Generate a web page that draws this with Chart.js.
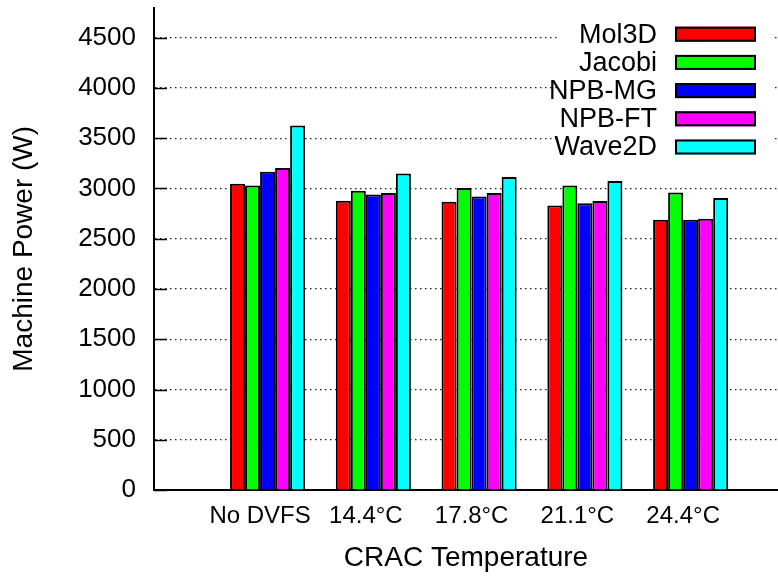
<!DOCTYPE html>
<html>
<head>
<meta charset="utf-8">
<script src="https://cdn.jsdelivr.net/npm/chart.js@4"></script>
<style>
  html, body { margin: 0; padding: 0; background: #fff; }
  #wrap { width: 778px; height: 578px; position: relative; }
</style>
</head>
<body>
<div id="wrap"><canvas id="chart"></canvas></div>
<script>
/* ── Data ─────────────────────────────────────────────── */
const categories = ['No DVFS', '14.4°C', '17.8°C', '21.1°C', '24.4°C'];
const seriesNames = ['Mol3D', 'Jacobi', 'NPB-MG', 'NPB-FT', 'Wave2D'];
const mol3d  = [3048, 2878, 2869, 2832, 2689];
const jacobi = [3030, 2978, 3005, 3031, 2961];
const npbMg  = [3167, 2941, 2921, 2852, 2689];
const npbFt  = [3204, 2955, 2955, 2875, 2699];
const wave2d = [3628, 3150, 3114, 3075, 2905];
const yTicks = [0, 500, 1000, 1500, 2000, 2500, 3000, 3500, 4000, 4500];

const colors = ['#ff0000', '#00ff00', '#0000ff', '#ff00ff', '#00ffff'];
const FONT = "'Liberation Sans', Arial, Helvetica, sans-serif";

const series = [mol3d, jacobi, npbMg, npbFt, wave2d];

// inward tick marks on the y axis (gnuplot style)
const innerTicks = {
  id: 'innerTicks',
  afterDraw(chart) {
    const { ctx, chartArea, scales: { y } } = chart;
    ctx.save();
    ctx.strokeStyle = '#000';
    ctx.lineWidth = 1.5;
    yTicks.forEach(v => {
      const py = Math.round(y.getPixelForValue(v)) + 0.5;
      ctx.beginPath();
      ctx.moveTo(chartArea.left, py);
      ctx.lineTo(chartArea.left + 13, py);
      ctx.stroke();
    });
    ctx.restore();
  }
};

// opaque key box in the upper right, text right-aligned before the swatch
const keyBox = {
  id: 'keyBox',
  afterDatasetsDraw(chart) {
    const { ctx } = chart;
    ctx.save();
    ctx.fillStyle = '#fff';
    ctx.fillRect(557, 16, 216, 146);
    ctx.font = `27px ${FONT}`;
    ctx.textAlign = 'right';
    ctx.textBaseline = 'middle';
    chart.data.datasets.forEach((ds, i) => {
      const cy = 34.2 + i * 28.2;
      ctx.fillStyle = '#000';
      ctx.fillText(ds.label, 657, cy + 1);
      ctx.fillStyle = ds.backgroundColor;
      ctx.fillRect(675, cy - 7.5, 81, 15);
      ctx.strokeStyle = '#000';
      ctx.lineWidth = 2;
      ctx.strokeRect(676, cy - 6.5, 79, 13);
    });
    ctx.restore();
  }
};

new Chart(document.getElementById('chart'), {
  type: 'bar',
  data: {
    datasets: seriesNames.map((name, s) => ({
      label: name,
      data: series[s].map((v, i) => ({ x: i, y: v })),
      backgroundColor: colors[s],
      borderColor: '#000',
      borderWidth: 2,
      borderSkipped: 'bottom'
    }))
  },
  options: {
    responsive: true,
    maintainAspectRatio: false,
    animation: false,
    devicePixelRatio: 1,
    categoryPercentage: 0.71,
    barPercentage: 1,
    layout: { padding: { top: 7.6, right: 0, bottom: 0, left: 0 } },
    plugins: {
      legend: { display: false },
      tooltip: { enabled: false }
    },
    scales: {
      x: {
        type: 'linear',
        offset: false,
        min: -1.074,
        max: 4.826,
        afterBuildTicks: scale => { scale.ticks = categories.map((_, i) => ({ value: i })); },
        afterFit: scale => { scale.height = 88; },
        grid: { display: false, drawTicks: false, offset: false },
        border: { display: true, color: '#000', width: 2 },
        ticks: {
          padding: 12,
          labelOffset: -7.5,
          color: '#000',
          font: { family: FONT, size: 24 },
          maxRotation: 0,
          autoSkip: false,
          callback: v => categories[v] ?? ''
        },
        title: {
          display: true,
          text: 'CRAC Temperature',
          color: '#000',
          font: { family: FONT, size: 28 },
          padding: { top: 0, bottom: 3 }
        }
      },
      y: {
        min: 0,
        max: 4800,
        afterBuildTicks: scale => { scale.ticks = yTicks.map(v => ({ value: v })); },
        afterFit: scale => {
          scale.width = 154;
          scale.paddingTop = 0;
          scale.paddingBottom = 0;
        },
        grid: { color: '#222', lineWidth: 1.2, drawTicks: false },
        border: { display: true, color: '#000', width: 2, dash: [1.5, 3.5] },
        ticks: {
          padding: 18,
          color: '#000',
          font: { family: FONT, size: 26 },
          callback: v => String(v)
        },
        title: {
          display: true,
          text: 'Machine Power (W)',
          color: '#000',
          font: { family: FONT, size: 28 },
          padding: { top: 7, bottom: 0 }
        }
      }
    }
  },
  plugins: [innerTicks, keyBox]
});
</script>
</body>
</html>
